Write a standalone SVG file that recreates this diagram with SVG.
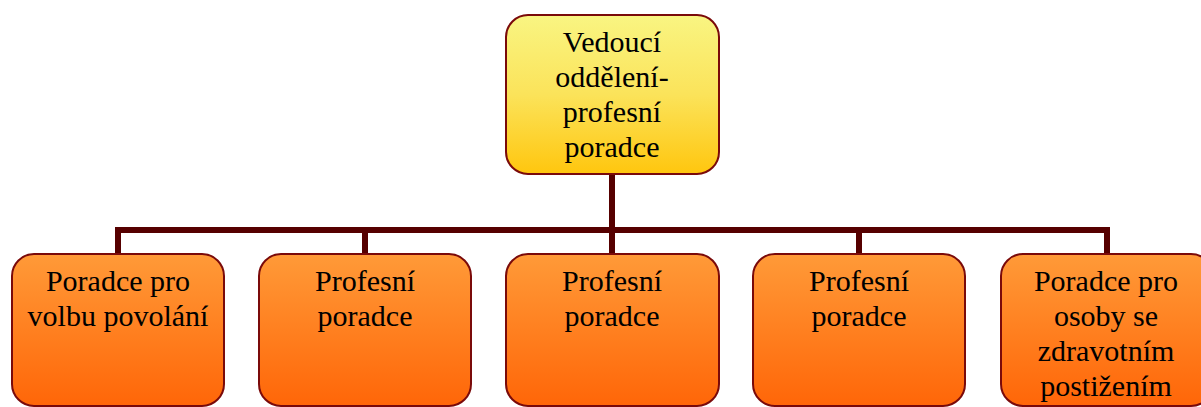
<svg xmlns="http://www.w3.org/2000/svg" width="1201" height="407" viewBox="0 0 1201 407">
<style>
.box{stroke:#7a0a0a;stroke-width:2}
.top{fill:url(#gy)}
.sub{fill:url(#go)}
.t{font-family:"Liberation Serif","Times New Roman",serif;font-size:30px;fill:#000;text-anchor:middle}
.c{stroke:#560000;stroke-width:6;fill:none}
</style>
<defs>
<linearGradient id="gy" x1="0" y1="0" x2="0" y2="1">
<stop offset="0" stop-color="#f9f582"/>
<stop offset="0.5" stop-color="#fbe35a"/>
<stop offset="1" stop-color="#ffc60e"/>
</linearGradient>
<linearGradient id="go" x1="0" y1="0" x2="0" y2="1">
<stop offset="0" stop-color="#ff9a38"/>
<stop offset="1" stop-color="#ff6608"/>
</linearGradient>
</defs>
<g id="connectors">
<path class="c" d="M612 174 V230"/>
<path class="c" d="M118 253 V230 H1107 V253"/>
<path class="c" d="M365 230 V253"/>
<path class="c" d="M612 230 V253"/>
<path class="c" d="M859 230 V253"/>
</g>
<g id="n0">
<rect class="box top" x="506" y="15" width="213" height="159" rx="22"/>
<text class="t" x="612" y="52">Vedoucí</text>
<text class="t" x="612" y="87">oddělení-</text>
<text class="t" x="612" y="122">profesní</text>
<text class="t" x="612" y="157">poradce</text>
</g>
<g id="n1">
<rect class="box sub" x="12" y="254" width="212" height="152" rx="22"/>
<text class="t" x="118" y="291">Poradce pro</text>
<text class="t" x="118" y="326">volbu povolání</text>
</g>
<g id="n2">
<rect class="box sub" x="259" y="254" width="212" height="152" rx="22"/>
<text class="t" x="365" y="291">Profesní</text>
<text class="t" x="365" y="326">poradce</text>
</g>
<g id="n3">
<rect class="box sub" x="506" y="254" width="213" height="152" rx="22"/>
<text class="t" x="612" y="291">Profesní</text>
<text class="t" x="612" y="326">poradce</text>
</g>
<g id="n4">
<rect class="box sub" x="753" y="254" width="212" height="152" rx="22"/>
<text class="t" x="859" y="291">Profesní</text>
<text class="t" x="859" y="326">poradce</text>
</g>
<g id="n5">
<rect class="box sub" x="1001" y="254" width="212" height="152" rx="22"/>
<text class="t" x="1106" y="291">Poradce pro</text>
<text class="t" x="1106" y="326">osoby se</text>
<text class="t" x="1106" y="361">zdravotním</text>
<text class="t" x="1106" y="396">postižením</text>
</g>
</svg>
